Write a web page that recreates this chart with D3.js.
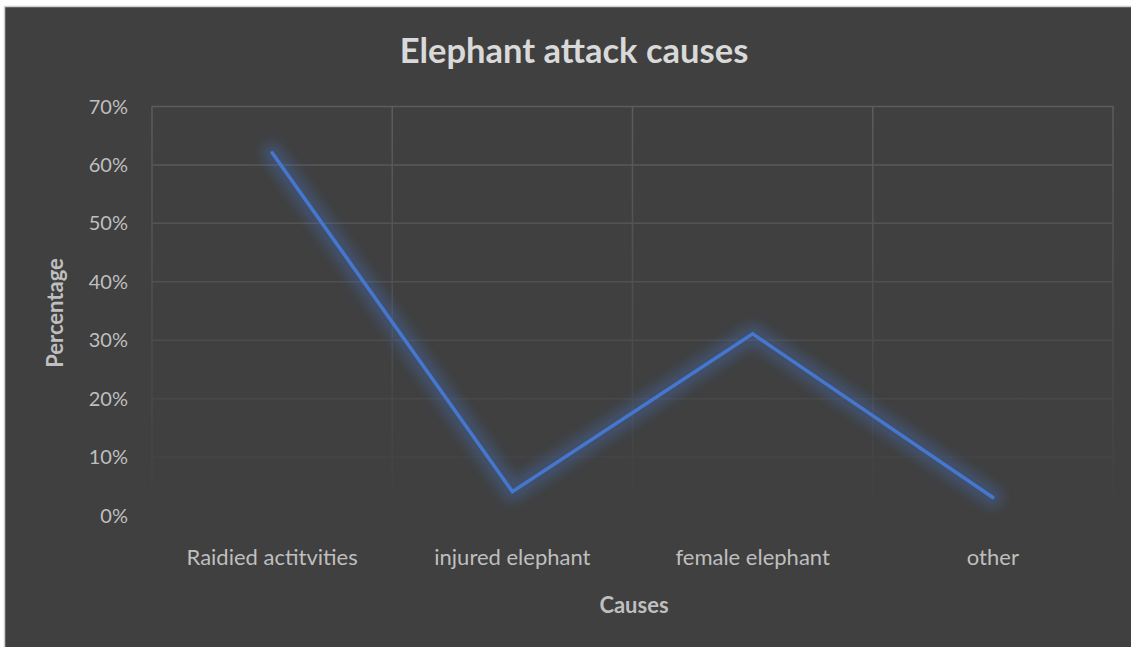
<!DOCTYPE html>
<html><head><meta charset="utf-8">
<script src="https://cdn.jsdelivr.net/npm/d3@7"></script>
<style>html,body{margin:0;padding:0;background:#fff;overflow:hidden;} svg{display:block;}</style>
</head><body>
<script>
const categories = ["Raidied actitvities", "injured elephant", "female elephant", "other"];
const values = [0.62, 0.04, 0.31, 0.03];
const yTicks = [0, 0.1, 0.2, 0.3, 0.4, 0.5, 0.6, 0.7];
const titleText = "Elephant attack causes";
const xTitle = "Causes";
const yTitle = "Percentage";

const W = 1131, H = 647;
const svg = d3.select("body").append("svg").attr("width", W).attr("height", H);
const FONT = "Lato, 'Open Sans', sans-serif";

svg.append("rect").attr("x", 4.5).attr("y", 6.5).attr("width", 1300).attr("height", 800)
  .attr("fill", "#404040").attr("stroke", "#cfcfcf").attr("stroke-width", 1.5);

const plot = {left: 152, right: 1113, top: 106, bottom: 515};
const x = d3.scaleBand().domain(categories).range([plot.left, plot.right]).padding(0);
const y = d3.scaleLinear().domain([0, 0.7]).range([plot.bottom, plot.top]);

const defs = svg.append("defs");
const grad = defs.append("linearGradient").attr("id", "gridGrad")
  .attr("gradientUnits", "userSpaceOnUse").attr("x1", 0).attr("x2", 0)
  .attr("y1", plot.top).attr("y2", plot.bottom);
grad.append("stop").attr("offset", 0).attr("stop-color", "#5c5c5c");
grad.append("stop").attr("offset", 1).attr("stop-color", "#404040");

const glow = defs.append("filter").attr("id", "glow").attr("x", "-20%").attr("y", "-20%").attr("width", "140%").attr("height", "140%");
glow.append("feGaussianBlur").attr("stdDeviation", 6);

// gridlines
const grid = svg.append("g");
grid.selectAll("line.h").data(yTicks).join("line").attr("class", "h")
  .attr("x1", plot.left).attr("x2", plot.right)
  .attr("y1", d => y(d) + 0.5).attr("y2", d => y(d) + 0.5)
  .attr("stroke", "url(#gridGrad)").attr("stroke-width", 1.5);
const vx = [plot.left].concat(categories.map(c => x(c) + x.bandwidth()));
grid.selectAll("line.v").data(vx).join("line").attr("class", "v")
  .attr("x1", d => d).attr("x2", d => d)
  .attr("y1", plot.top).attr("y2", plot.bottom)
  .attr("stroke", "url(#gridGrad)").attr("stroke-width", 1.5);

// y axis labels
const yAxis = d3.axisLeft(y).tickValues(yTicks).tickFormat(d3.format(".0%")).tickSize(0).tickPadding(0);
const ya = svg.append("g").attr("transform", `translate(${plot.left - 24},0)`).call(yAxis);
ya.select(".domain").remove();
ya.selectAll("text").attr("font-family", FONT).attr("font-size", 20).attr("fill", "#bfbfbf").attr("dy", "0.35em");

// x axis labels
const xAxis = d3.axisBottom(x).tickSize(0).tickPadding(0);
const xa = svg.append("g").attr("transform", `translate(0,${565})`).call(xAxis);
xa.select(".domain").remove();
xa.selectAll("text").attr("font-family", FONT).attr("font-size", 22).attr("fill", "#bfbfbf").attr("dy", 0);

// line
const line = d3.line().x((d, i) => x(categories[i]) + x.bandwidth() / 2).y(d => y(d));
svg.append("path").datum(values).attr("d", line).attr("fill", "none")
  .attr("stroke", "#4472C4").attr("stroke-opacity", 0.35).attr("stroke-width", 20)
  .attr("stroke-linejoin", "round").attr("stroke-linecap", "round").attr("filter", "url(#glow)");
svg.append("path").datum(values).attr("d", line).attr("fill", "none")
  .attr("stroke", "#4677D0").attr("stroke-width", 3.5)
  .attr("stroke-linejoin", "miter").attr("stroke-linecap", "round");

// titles
svg.append("text").attr("x", 574).attr("y", 63).attr("text-anchor", "middle")
  .attr("font-family", FONT).attr("font-weight", "bold").attr("font-size", 34.5)
  .attr("fill", "#d9d9d9").text(titleText);
svg.append("text").attr("x", 634).attr("y", 613).attr("text-anchor", "middle")
  .attr("font-family", FONT).attr("font-weight", "bold").attr("font-size", 22)
  .attr("fill", "#bfbfbf").text(xTitle);
svg.append("text").attr("transform", "translate(63,313) rotate(-90)").attr("text-anchor", "middle")
  .attr("font-family", FONT).attr("font-weight", "bold").attr("font-size", 22)
  .attr("fill", "#bfbfbf").text(yTitle);
</script>
</body></html>
